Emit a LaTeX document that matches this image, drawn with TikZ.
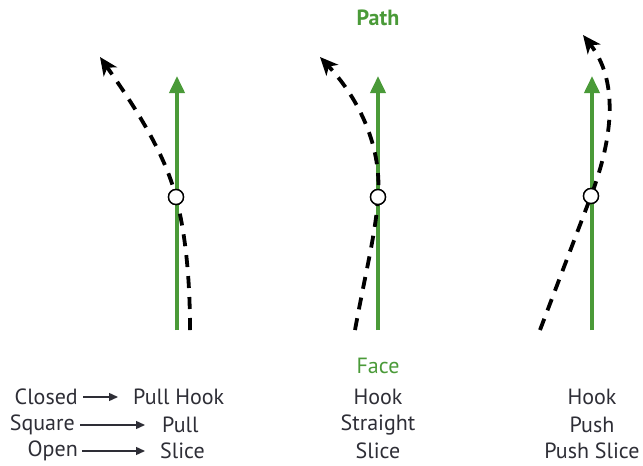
\documentclass[tikz,border=0pt]{standalone}
\usepackage{fontspec}
\setmainfont{PT Sans}
\usetikzlibrary{arrows.meta}
\definecolor{grn}{HTML}{4A9A38}
\definecolor{txt}{HTML}{2E2E36}
\begin{document}
\begin{tikzpicture}[x=1pt,y=-1pt,
  pathline/.style={grn,line width=3.8pt,-{Triangle[length=17pt,width=15pt]}},
  swing/.style={black,line width=3.8pt,dash pattern=on 12pt off 9pt,-{Stealth[length=18pt,width=16pt,inset=5pt]}},
  ball/.style={circle,draw=black,fill=white,line width=1.4pt,minimum size=15pt,inner sep=0pt},
  lbl/.style={font=\fontsize{22}{24}\selectfont,text=txt,inner sep=0pt},
  glbl/.style={font=\fontsize{22}{24}\selectfont,text=grn,inner sep=0pt},
  small/.style={txt,line width=1.4pt,-{Triangle[length=9pt,width=8pt]}}]
\useasboundingbox (0,0) rectangle (643,466);
% left
\coordinate (b1) at (177,330);
\coordinate (t1) at (177,76);
\coordinate (s1) at (190,330);
\coordinate (e1) at (100,57);
\draw[pathline] (b1) -- (t1);
\node[ball] (c1) at (176,197) {};
\draw[swing] (s1) .. controls (190,270) and (184,228) .. (c1.center) .. controls (164,150) and (130,100) .. (e1);
\node[ball] at (c1) {};
% middle
\coordinate (b2) at (378,330);
\coordinate (t2) at (378,76);
\coordinate (s2) at (355,330);
\coordinate (e2) at (320,57);
\draw[pathline] (b2) -- (t2);
\node[ball] (c2) at (378,197) {};
\draw[swing] (s2) .. controls (366,270) and (376,232) .. (c2.center) .. controls (382,148) and (360,100) .. (e2);
\node[ball] at (c2) {};
% right
\coordinate (b3) at (592,330);
\coordinate (t3) at (592,76);
\coordinate (s3) at (540,330);
\coordinate (e3) at (583,35);
\draw[pathline] (b3) -- (t3);
\node[ball] (c3) at (591,196) {};
\draw[swing] (s3) -- (c3.center) .. controls (614,135) and (618,80) .. (e3);
\node[ball] at (c3) {};
% labels
\node[glbl,font=\fontsize{22}{24}\selectfont\bfseries] (path) at (378,18) {Path};
\node[glbl] (face) at (378,366) {Face};
\node[lbl] (h2) at (378,397) {Hook};
\node[lbl] (st2) at (378,425) {Straight};
\node[lbl] (sl2) at (378,451) {Slice};
\node[lbl] (h3) at (592,397) {Hook};
\node[lbl] (p3) at (592,425) {Push};
\node[lbl] (ps3) at (592,451) {Push Slice};
\node[lbl,anchor=east] (cl) at (78,397) {Closed};
\node[lbl,anchor=east] (sq) at (75,425) {Square};
\node[lbl,anchor=east] (op) at (78,451) {Open};
\node[lbl,anchor=west] (ph) at (133,397) {Pull Hook};
\node[lbl,anchor=west] (pu) at (162,425) {Pull};
\node[lbl,anchor=west] (sc) at (160,451) {Slice};
\draw[small] ([xshift=5pt]cl.east) -- ([xshift=-15pt]ph.west);
\draw[small] ([xshift=5pt]sq.east) -- ([xshift=-17pt]pu.west);
\draw[small] ([xshift=4pt]op.east) -- ([xshift=-15pt]sc.west);
\end{tikzpicture}
\end{document}
